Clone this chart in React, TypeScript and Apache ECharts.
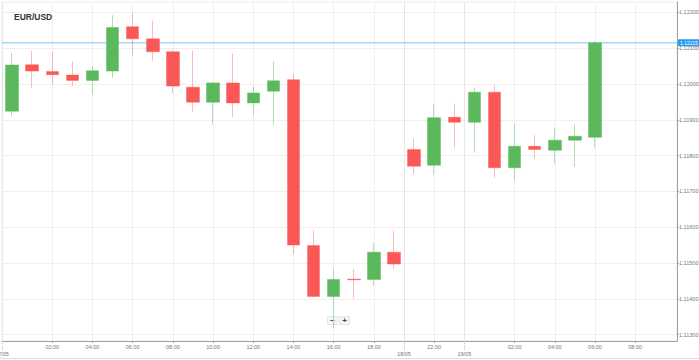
import React, { useEffect, useRef } from 'react';
import * as echarts from 'echarts';

const title = 'EUR/USD';
const slots = [0, 1, 2, 3, 4, 5, 6, 7, 8, 9, 10, 11, 12, 13, 14, 15, 16, 17, 18, 19, 20, 21, 22, 23, 24, 25, 26, 27, 28, 29];
const opens = [1.11924, 1.12054, 1.12035, 1.12025, 1.12010, 1.12036, 1.12160, 1.12126, 1.12090, 1.11991, 1.11949, 1.12003, 1.11947, 1.11980, 1.12012, 1.11549, 1.11406, 1.11455, 1.11454, 1.11530, 1.11817, 1.11773, 1.11907, 1.11893, 1.11977, 1.11766, 1.11826, 1.11815, 1.11843, 1.11851];
const closes = [1.12053, 1.12036, 1.12026, 1.12010, 1.12037, 1.12158, 1.12126, 1.12090, 1.11994, 1.11949, 1.12003, 1.11947, 1.11975, 1.12009, 1.11550, 1.11406, 1.11454, 1.11453, 1.11530, 1.11497, 1.11770, 1.11906, 1.11893, 1.11977, 1.11766, 1.11826, 1.11817, 1.11843, 1.11854, 1.12115];
const lows = [1.11910, 1.11989, 1.11999, 1.11995, 1.11969, 1.12017, 1.12078, 1.12065, 1.11975, 1.11922, 1.11887, 1.11907, 1.11914, 1.11886, 1.11524, 1.11404, 1.11318, 1.11401, 1.11436, 1.11482, 1.11748, 1.11747, 1.11822, 1.11808, 1.11738, 1.11730, 1.11791, 1.11777, 1.11768, 1.11822];
const highs = [1.12087, 1.12092, 1.12089, 1.12063, 1.12050, 1.12192, 1.12199, 1.12177, 1.12096, 1.12094, 1.12005, 1.12086, 1.11994, 1.12063, 1.12028, 1.11592, 1.11483, 1.11483, 1.11556, 1.11591, 1.11847, 1.11944, 1.11945, 1.11990, 1.11996, 1.11888, 1.11857, 1.11878, 1.11887, 1.12120];

const currentPrice = 1.12115;

const timeTicks = [2, 4, 6, 8, 10, 12, 14, 16, 18, 21, 25, 27, 29, 31];
const timeLabels = ['02:00', '04:00', '06:00', '08:00', '10:00', '12:00', '14:00', '16:00', '18:00', '22:00', '02:00', '04:00', '06:00', '08:00'];
const dateTicks = [-0.5, 19.5, 22.5];
const dateLabels = ['17/05', '18/05', '19/05'];
const priceTicks = [1.113, 1.114, 1.115, 1.116, 1.117, 1.118, 1.119, 1.12, 1.121, 1.122];

const X_MIN = -0.5;
const X_MAX = 33.08;
const FONT = 'Liberation Sans, Arial, sans-serif';

export default function App() {
  const ref = useRef<HTMLDivElement>(null);
  useEffect(() => {
    document.body.style.margin = '0';
    const chart = echarts.init(ref.current!, null, { renderer: 'svg' });
    const data = slots.map((s, i) => [s, opens[i], closes[i], lows[i], highs[i]]);
    const labelOf = (v: number, ticks: number[], labels: string[]) => {
      const idx = ticks.findIndex((t) => Math.abs(t - v) < 1e-6);
      return idx >= 0 ? labels[idx] : '';
    };
    chart.setOption({
      animation: false,
      backgroundColor: '#ffffff',
      title: {
        text: title,
        left: 9,
        top: 7,
        textStyle: { fontSize: 8.5, fontWeight: 'bold', color: '#333', fontFamily: FONT },
      },
      grid: {
        left: 2,
        right: 22,
        top: 2,
        bottom: 19,
        outerBoundsMode: 'none',
        containLabel: false,
        show: true,
        borderColor: '#ececec',
        borderWidth: 1,
      },
      xAxis: [
        {
          type: 'value',
          min: X_MIN,
          max: X_MAX,
          position: 'bottom',
          axisLine: { show: true, onZero: false, lineStyle: { color: '#a0a0a0', width: 1 } },
          axisTick: { show: true, length: 2, customValues: timeTicks, lineStyle: { color: '#999' } },
          axisLabel: {
            customValues: timeTicks,
            formatter: (v: number) => labelOf(v, timeTicks, timeLabels),
            fontSize: 5.5,
            color: '#777',
            margin: 3,
            fontFamily: FONT,
          },
          splitLine: { show: true, lineStyle: { color: '#f0f0f0', width: 1 } },
        },
        {
          type: 'value',
          min: X_MIN,
          max: X_MAX,
          position: 'bottom',
          axisLine: { show: false, onZero: false },
          axisTick: { show: true, length: 9, customValues: dateTicks, lineStyle: { color: '#bbb', type: 'dotted' } },
          axisLabel: {
            customValues: dateTicks,
            formatter: (v: number) => labelOf(v, dateTicks, dateLabels),
            fontSize: 5.5,
            color: '#777',
            margin: 9.5,
            fontFamily: FONT,
          },
          splitLine: { show: true, lineStyle: { color: '#e6e6e6', width: 1 } },
        },
      ],
      yAxis: {
        type: 'value',
        position: 'right',
        min: 1.11282,
        max: 1.12229,
        scale: true,
        axisLine: { show: true, onZero: false, lineStyle: { color: '#a0a0a0', width: 1 } },
        axisTick: { show: true, length: 2, customValues: priceTicks, lineStyle: { color: '#999' } },
        axisLabel: {
          customValues: priceTicks,
          formatter: (v: number) => v.toFixed(5),
          fontSize: 5.5,
          color: '#777',
          margin: 2,
          fontFamily: FONT,
        },
        splitLine: { show: true, lineStyle: { color: '#f0f0f0', width: 1 } },
      },
      series: [
        {
          type: 'line',
          xAxisIndex: 0,
          yAxisIndex: 0,
          data: [[X_MIN, currentPrice], [X_MAX, currentPrice]],
          showSymbol: false,
          symbol: 'none',
          silent: true,
          z: 1,
          lineStyle: { color: '#7cc4f8', width: 1 },
          endLabel: {
            show: true,
            distance: 1,
            formatter: () => currentPrice.toFixed(5),
            backgroundColor: '#2a9af0',
            color: '#fff',
            fontSize: 5,
            padding: [1, 2],
            borderRadius: 1,
            fontFamily: FONT,
          },
        },
        {
          type: 'candlestick',
          xAxisIndex: 0,
          yAxisIndex: 0,
          barWidth: 13,
          z: 2,
          dimensions: ['x', 'open', 'close', 'lowest', 'highest'],
          encode: { x: 0, y: [1, 2, 3, 4] },
          data,
          itemStyle: {
            color: '#5cb85c',
            color0: '#fa5757',
            borderColor: 'rgba(92,184,92,0.45)',
            borderColor0: 'rgba(250,87,87,0.4)',
            borderColorDoji: 'rgba(250,87,87,0.4)',
            borderWidth: 1,
          },
        },
      ],
      graphic: [
        {
          type: 'line',
          shape: { x1: 0, y1: 358.5, x2: 699, y2: 358.5 },
          style: { stroke: '#e0e0e0', lineWidth: 1 },
          silent: true,
        },
        {
          type: 'group',
          left: 327,
          top: 316,
          children: [
            { type: 'rect', shape: { x: 0, y: 0, width: 10, height: 8 }, style: { fill: '#f4f4f4', stroke: '#e6e6e6' } },
            { type: 'text', x: 5, y: 4, style: { text: '−', fontSize: 8, fontWeight: 'bold', fill: '#444', align: 'center', verticalAlign: 'middle', fontFamily: FONT } },
            { type: 'rect', shape: { x: 12, y: 0, width: 10, height: 8 }, style: { fill: '#f4f4f4', stroke: '#e6e6e6' } },
            { type: 'text', x: 17, y: 4, style: { text: '+', fontSize: 8, fontWeight: 'bold', fill: '#444', align: 'center', verticalAlign: 'middle', fontFamily: FONT } },
          ],
        },
      ],
    });
    return () => chart.dispose();
  }, []);
  return <div ref={ref} style={{ position: 'absolute', left: 0, top: 0, width: 699, height: 360 }} />;
}
